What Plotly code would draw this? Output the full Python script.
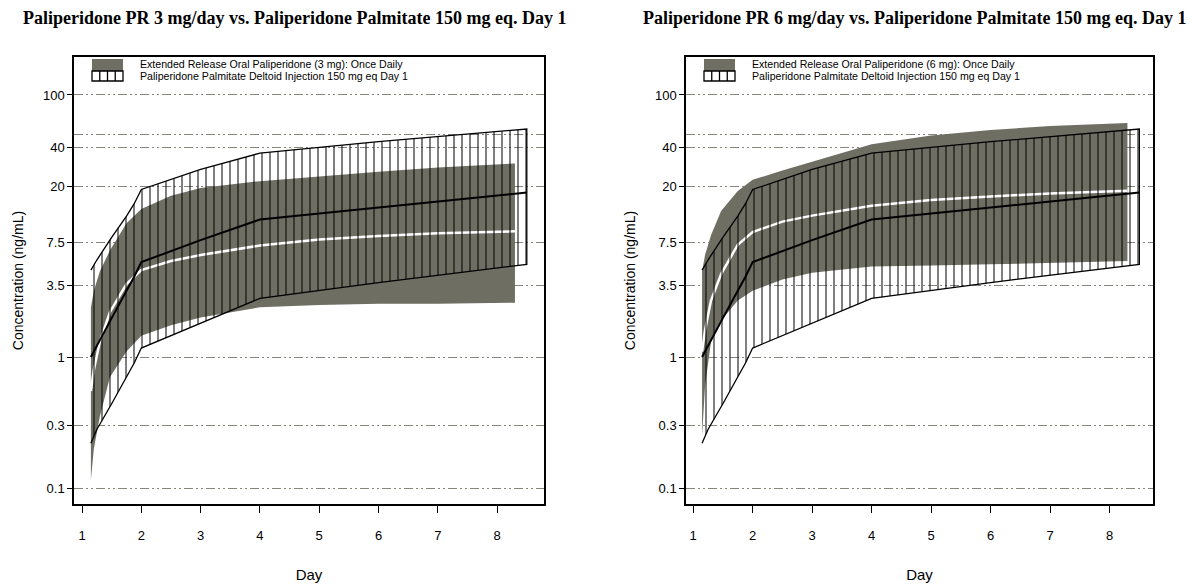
import plotly.graph_objects as go

# ---------------- data ----------------
days_oral = [1.15, 1.2, 1.3, 1.47, 1.75, 2.0, 2.5, 3.0, 4.0, 5.0, 6.0, 7.0, 8.3]

oral3_upper = [2.4, 3.2, 4.5, 6.5, 10.5, 13.5, 17.0, 19.5, 22.0, 24.0, 26.0, 28.0, 30.0]
oral3_median = [0.55, 0.8, 1.3, 2.2, 3.6, 4.6, 5.4, 6.0, 7.1, 7.9, 8.4, 8.8, 9.1]
oral3_lower = [0.115, 0.2, 0.35, 0.7, 1.1, 1.45, 1.75, 2.0, 2.4, 2.5, 2.55, 2.55, 2.6]

oral6_upper = [4.5, 6.0, 8.5, 13.0, 18.5, 22.5, 26.5, 31.0, 42.0, 49.0, 54.0, 58.0, 61.0]
oral6_median = [1.1, 1.6, 2.7, 4.3, 7.2, 9.0, 10.8, 12.0, 14.3, 15.8, 16.8, 17.7, 18.6]
oral6_lower = [0.25, 0.6, 1.3, 1.9, 2.7, 3.2, 3.9, 4.4, 4.9, 5.0, 5.1, 5.2, 5.4]

days_inj = [1.15, 1.25, 1.5, 1.75, 1.88, 2.0, 3.0, 4.0, 6.0, 8.5]
inj_upper = [4.6, 5.5, 8.2, 11.9, 14.8, 19.0, 27.0, 36.0, 44.0, 55.0]
inj_median = [1.0, 1.22, 1.98, 3.2, 4.1, 5.3, 7.8, 11.2, 13.9, 18.0]
inj_lower = [0.22, 0.28, 0.44, 0.70, 0.90, 1.17, 1.82, 2.8, 3.7, 5.1]

ytick_vals = [0.1, 0.3, 1, 3.5, 7.5, 20, 40, 100]
ytick_text = ["0.1", "0.3", "1", "3.5", "7.5", "20", "40", "100"]
extra_grid_vals = [50]
xtick_vals = [1, 2, 3, 4, 5, 6, 7, 8]
xtick_text = ["1", "2", "3", "4", "5", "6", "7", "8"]

titles = ["Paliperidone PR 3 mg/day vs. Paliperidone Palmitate 150 mg eq. Day 1",
          "Paliperidone PR 6 mg/day vs. Paliperidone Palmitate 150 mg eq. Day 1"]
oral_names = ["Extended Release Oral Paliperidone (3 mg): Once Daily",
              "Extended Release Oral Paliperidone (6 mg): Once Daily"]
inj_name = "Paliperidone Palmitate Deltoid Injection 150 mg eq Day 1"

# ---------------- styles ----------------
GRAY = "#6e6e63"
GRID = "#85857c"
FONT = "Liberation Sans, Arial, sans-serif"
W, H = 1190, 584
GRIDDASH = "9px,3px,2px,3px,2px,3px"

fig = go.Figure()

panels = [
    dict(xa="x", ya="y", up=oral3_upper, med=oral3_median, lo=oral3_lower, name=oral_names[0],
         left=74, right=544, xr=[0.865, 8.79]),
    dict(xa="x2", ya="y2", up=oral6_upper, med=oral6_median, lo=oral6_lower, name=oral_names[1],
         left=686, right=1153, xr=[0.88, 8.73]),
]

for p in panels:
    fig.add_trace(go.Scatter(
        x=days_oral + days_oral[::-1], y=p["up"] + p["lo"][::-1],
        xaxis=p["xa"], yaxis=p["ya"], mode="lines", fill="toself",
        fillcolor=GRAY, line=dict(width=0, color=GRAY),
        name=p["name"], showlegend=False, hoverinfo="skip"))
    fig.add_trace(go.Scatter(
        x=days_oral, y=p["med"], xaxis=p["xa"], yaxis=p["ya"], mode="lines",
        line=dict(color="white", width=2.5), showlegend=False, hoverinfo="skip"))
    fig.add_trace(go.Scatter(
        x=days_inj + days_inj[::-1], y=inj_upper + inj_lower[::-1],
        xaxis=p["xa"], yaxis=p["ya"], mode="lines", fill="toself",
        fillcolor="rgba(0,0,0,0)",
        fillpattern=dict(shape="|", fgcolor="black", bgcolor="rgba(0,0,0,0)",
                         size=8, solidity=0.25, fillmode="overlay"),
        line=dict(color="black", width=1.3),
        name=inj_name, showlegend=False, hoverinfo="skip"))
    fig.add_trace(go.Scatter(
        x=days_inj, y=inj_median, xaxis=p["xa"], yaxis=p["ya"], mode="lines",
        line=dict(color="black", width=2), showlegend=False, hoverinfo="skip"))


def yax(anchor):
    return dict(
        type="log", range=[-1.122, 2.29], domain=[1 - 504 / H, 1 - 57 / H],
        anchor=anchor, tickmode="array", tickvals=ytick_vals, ticktext=ytick_text,
        showgrid=True, gridcolor=GRID, gridwidth=1.2, griddash=GRIDDASH,
        minor=dict(tickmode="array", tickvals=extra_grid_vals, showgrid=True,
                   gridcolor=GRID, gridwidth=1.2, griddash=GRIDDASH, ticks=""),
        ticks="outside", ticklen=5, tickwidth=1.3, tickcolor="black",
        showline=True, linecolor="black", linewidth=1.5, mirror=True,
        tickfont=dict(family=FONT, size=13, color="black"),
        title=dict(text="Concentration (ng/mL)", font=dict(family=FONT, size=14, color="black"),
                   standoff=16),
        zeroline=False, automargin=False)


def xax(domain, rng, anchor):
    return dict(
        range=rng, domain=domain, anchor=anchor,
        tickmode="array", tickvals=xtick_vals, ticktext=xtick_text,
        showgrid=False, zeroline=False,
        ticks="outside", ticklen=7, tickwidth=1.3, tickcolor="black",
        showline=True, linecolor="black", linewidth=1.5, mirror=True,
        tickfont=dict(family=FONT, size=13, color="black"), ticklabelstandoff=12,
        title=dict(text="Day", font=dict(family=FONT, size=15, color="black"), standoff=27),
        automargin=False)


# ---- legend drawn inside each panel (swatches + text) ----
shapes = []
annotations = []
for i, p in enumerate(panels):
    sx0 = p["left"] + 18
    sx1 = p["left"] + 49
    g_top, g_bot, h_bot = 59, 71, 81
    shapes.append(dict(type="rect", xref="paper", yref="paper",
                       x0=sx0 / W, x1=sx1 / W, y0=1 - g_bot / H, y1=1 - g_top / H,
                       fillcolor=GRAY, line=dict(width=0), layer="above"))
    shapes.append(dict(type="rect", xref="paper", yref="paper",
                       x0=sx0 / W, x1=sx1 / W, y0=1 - h_bot / H, y1=1 - g_bot / H,
                       fillcolor="white", line=dict(color="black", width=1.3), layer="above"))
    for k in range(1, 4):
        xx = sx0 + (sx1 - sx0) * k / 4
        shapes.append(dict(type="line", xref="paper", yref="paper",
                           x0=xx / W, x1=xx / W, y0=1 - h_bot / H, y1=1 - g_bot / H,
                           line=dict(color="black", width=1.3), layer="above"))
    for txt, yy in ((p["name"], 64), (inj_name, 76)):
        annotations.append(dict(text=txt, x=(p["left"] + 64) / W, y=1 - yy / H,
                                xref="paper", yref="paper", showarrow=False,
                                xanchor="left", yanchor="middle",
                                font=dict(family=FONT, size=10.6, color="black")))

annotations += [
    dict(text="<b>" + titles[0] + "</b>", x=294 / W, y=1 - 18 / H, xref="paper", yref="paper",
         showarrow=False, xanchor="center", yanchor="middle",
         font=dict(family="Liberation Serif, Times New Roman, serif", size=18, color="black")),
    dict(text="<b>" + titles[1] + "</b>", x=914 / W, y=1 - 18 / H, xref="paper", yref="paper",
         showarrow=False, xanchor="center", yanchor="middle",
         font=dict(family="Liberation Serif, Times New Roman, serif", size=18, color="black")),
]

fig.update_layout(
    width=W, height=H, margin=dict(l=0, r=0, t=0, b=0),
    template="none", paper_bgcolor="white", plot_bgcolor="white",
    showlegend=False,
    xaxis=xax([74 / W, 544 / W], panels[0]["xr"], "y"),
    yaxis=yax("x"),
    xaxis2=xax([686 / W, 1153 / W], panels[1]["xr"], "y2"),
    yaxis2=yax("x2"),
    shapes=shapes,
    annotations=annotations,
)

fig.write_html("out.html")
